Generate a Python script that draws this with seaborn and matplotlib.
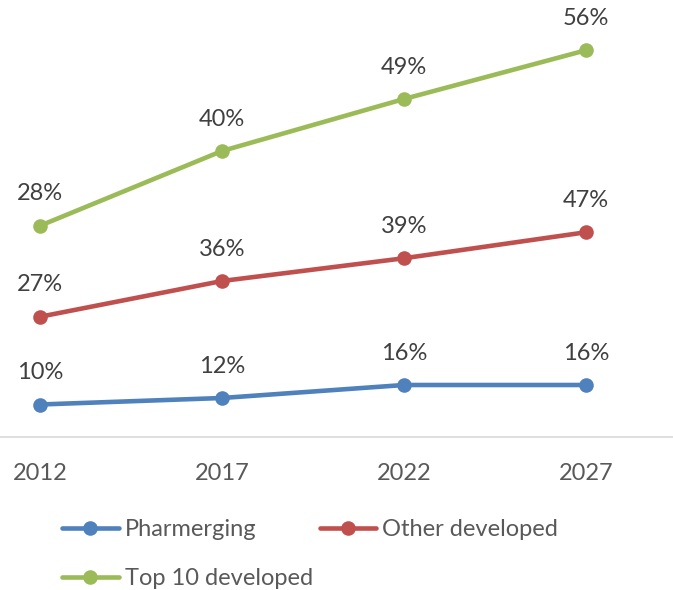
import numpy as np
import pandas as pd
import matplotlib
matplotlib.use("Agg")
import matplotlib.pyplot as plt
import seaborn as sns

years = [2012, 2017, 2022, 2027]
series = ["Pharmerging", "Other developed", "Top 10 developed"]
pharmerging = [10, 12, 16, 16]
other_developed = [27, 36, 39, 47]
top10_developed = [28, 40, 49, 56]
colors = ["#4F81BD", "#C0504D", "#9BBB59"]

sns.set_theme(style="white")
plt.rcParams["font.family"] = ["Lato", "DejaVu Sans"]

values = np.array([pharmerging, other_developed, top10_developed], dtype=float)
stacked = np.cumsum(values, axis=0)  # stacked line chart

rows = []
for s, name in enumerate(series):
    for j, yr in enumerate(years):
        rows.append({"year": yr, "series": name, "stacked": stacked[s, j], "value": values[s, j]})
df = pd.DataFrame(rows)

fig = plt.figure(figsize=(6.73, 5.90), dpi=100)
ax = fig.add_axes([0, (590 - 437) / 590, 1, 437 / 590])

for name, c in zip(series, colors):
    d = df[df["series"] == name]
    sns.lineplot(data=d, x="year", y="stacked", ax=ax, color=c, linewidth=3.3,
                 marker="o", markersize=10.5, markeredgewidth=0, label=name, legend=False)
    for _, r in d.iterrows():
        ax.annotate(f"{int(r['value'])}%", (r["year"], r["stacked"]), xytext=(0, 23),
                    textcoords="offset points", ha="center", va="center",
                    fontsize=17, color="#404040")

ax.set_xlim(2012 - 40 / 182 * 5, 2027 + 87 / 182 * 5)
ax.set_ylim(0, 437 / 3.25)
ax.set_xticks(years)
ax.set_xticklabels([str(y) for y in years])
ax.set_yticks([])
ax.set_xlabel("")
ax.set_ylabel("")
ax.tick_params(axis="x", length=0, pad=19, labelsize=17, labelcolor="#595959")
for sp in ["left", "right", "top"]:
    ax.spines[sp].set_visible(False)
ax.spines["bottom"].set_color("#D9D9D9")
ax.spines["bottom"].set_linewidth(1.2)
ax.set_facecolor("none")

handles, labels = ax.get_legend_handles_labels()
order = [0, 2, 1]
leg = fig.legend([handles[i] for i in order], [labels[i] for i in order], ncol=2,
                 loc="upper left",
                 bbox_to_anchor=(62 / 673, 1 - 519 / 590), frameon=False,
                 fontsize=17, handlelength=2.4, handletextpad=0.25,
                 columnspacing=0.3, labelspacing=1.2, borderpad=0, borderaxespad=0)
for t in leg.get_texts():
    t.set_color("#595959")

fig.savefig("out.png", dpi=100)
